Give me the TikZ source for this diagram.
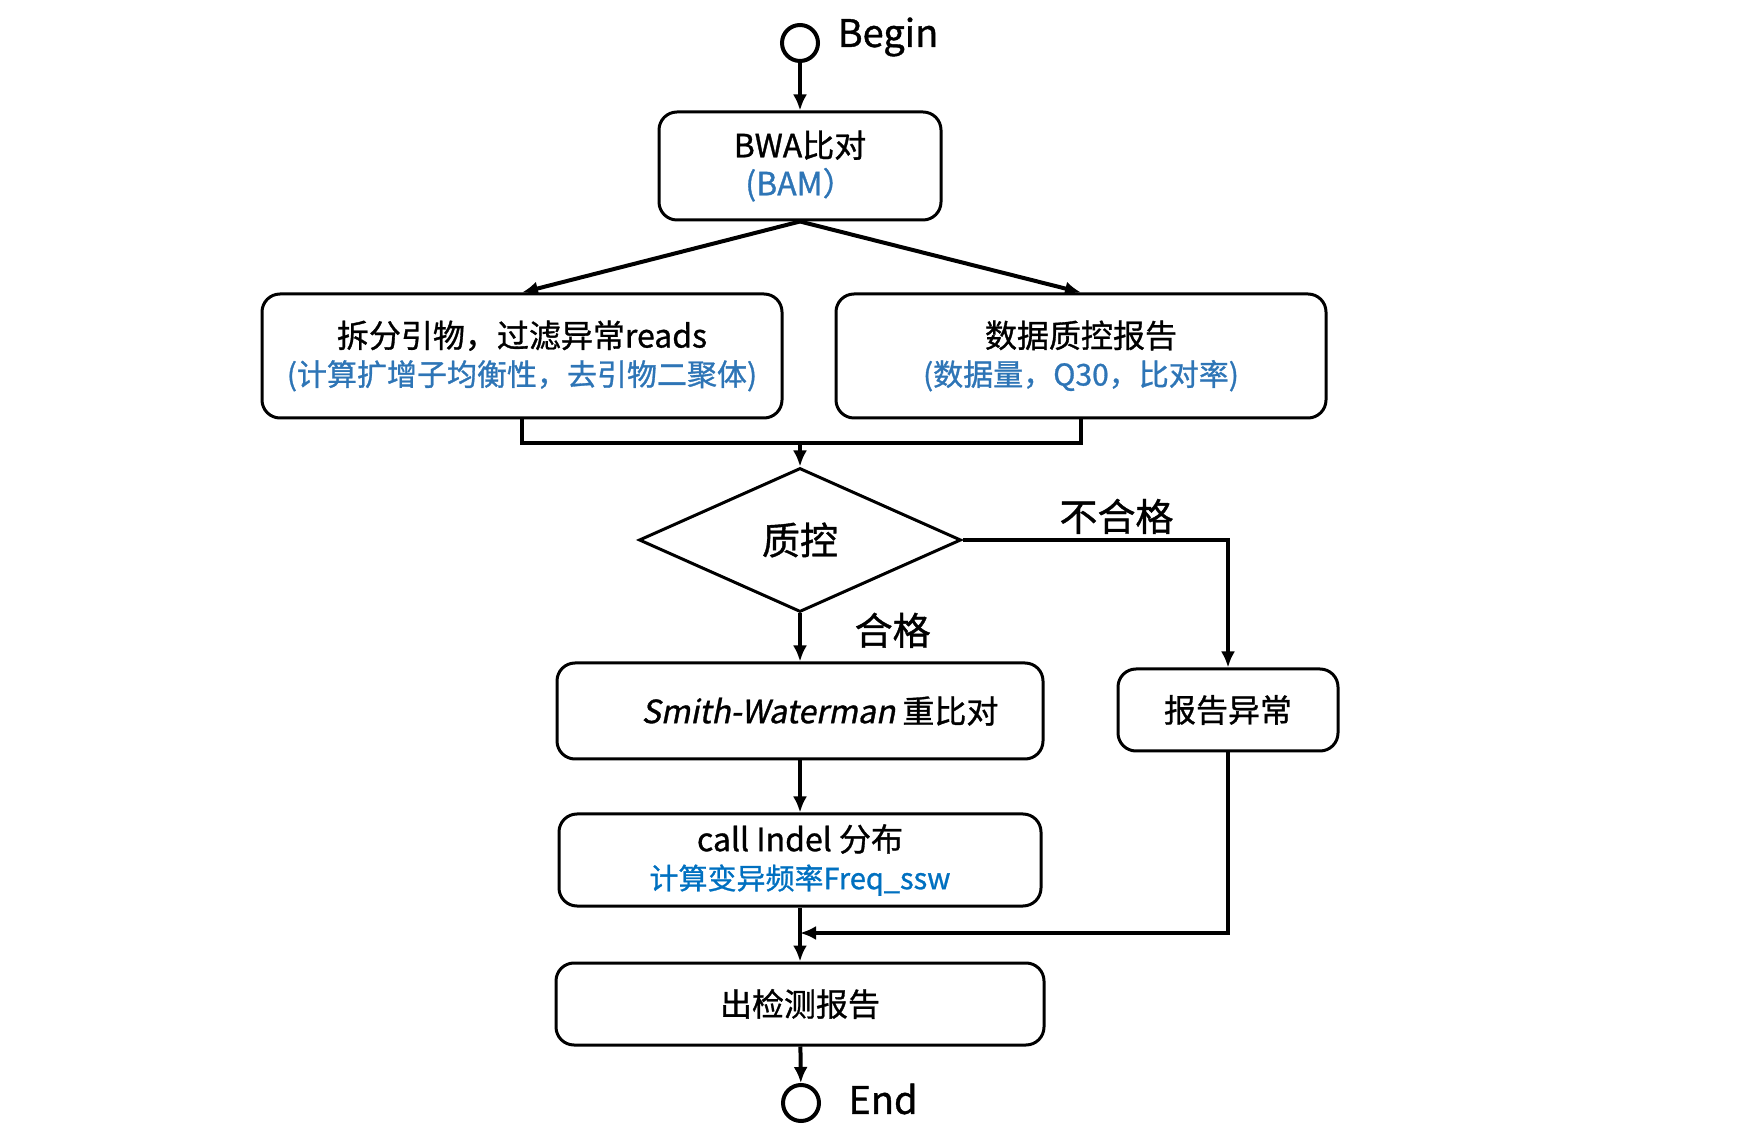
\documentclass[tikz,border=0pt]{standalone}
\usepackage{fontspec}
\setmainfont{Noto Sans CJK SC}[FakeBold=1]
\newfontfamily\slfont[FakeSlant=0.2,FakeBold=1]{Noto Sans CJK SC}
\usepackage{tikz}
\usetikzlibrary{arrows.meta,shapes,positioning}
\definecolor{bamblue}{RGB}{46,117,182}
\definecolor{freqblue}{RGB}{0,112,192}
\newcommand{\bluenote}[2][15pt]{{\fontsize{#1}{19pt}\selectfont\textcolor{bamblue}{#2}}}

\begin{document}
\begin{tikzpicture}[x=0.5pt,y=-0.5pt,>={Latex[length=8pt,width=7pt]},
  box/.style={draw,rounded corners=9pt,line width=1.5pt,align=center,font=\fontsize{16pt}{19pt}\selectfont},
  decide/.style={draw,diamond,line width=1.5pt,inner sep=0pt,font=\fontsize{19pt}{22pt}\selectfont},
  term/.style={draw,circle,line width=2pt,minimum size=18pt,inner sep=0pt},
  lbl/.style={font=\fontsize{19pt}{22pt}\selectfont},
  conn/.style={line width=2pt}]

\useasboundingbox (0,0) rectangle (1751,1143);

\node (begin) at (800,43)[term] {};
\node (beginlbl) at (888,37)[lbl] {Begin};
\node (bwa) at (800,166)[box,minimum width=141pt,minimum height=54pt] {BWA比对\\\bluenote[16pt]{(BAM）}};
\node (split) at (522,356)[box,minimum width=260pt,minimum height=62pt] {拆分引物，过滤异常reads\\\bluenote{(计算扩增子均衡性，去引物二聚体)}};
\node (qcrep) at (1081,356)[box,minimum width=245pt,minimum height=62pt] {数据质控报告\\\bluenote{(数据量，Q30，比对率)}};
\node (qc) at (800,540)[decide,minimum width=161pt,minimum height=72pt] {质控};
\node (sw) at (800,711)[box,minimum width=243pt,minimum height=48pt] {\hspace*{20pt}{\slfont Smith-Waterman} 重比对};
\node (abn) at (1228,710)[box,minimum width=110pt,minimum height=41pt] {报告异常};
\node (call) at (800,860)[box,minimum width=241pt,minimum height=46pt] {call Indel 分布\\{\fontsize{14.5pt}{19pt}\selectfont\textcolor{freqblue}{计算变异频率Freq\_ssw}}};
\node (out) at (800,1004)[box,minimum width=244pt,minimum height=41pt] {出检测报告};
\node (end) at (801,1103)[term] {};
\node (endlbl) at (883,1099)[lbl] {End};
\coordinate (merge) at (800,443);
\coordinate (join) at (800,933);

\draw [->,conn] (begin) -- (bwa);
\draw [->,conn] (bwa.south) -- (split.north);
\draw [->,conn] (bwa.south) -- (qcrep.north);
\draw [conn] (split.south) |- (merge) -| (qcrep.south);
\draw [->,conn] (merge) -- (qc.north);
\draw [->,conn] (qc.east) -| node[pos=0.29,above,lbl,inner sep=2pt] {不合格} (abn.north);
\draw [->,conn] (qc.south) -- node[pos=0.35,right,lbl,xshift=23pt] {合格} (sw.north);
\draw [->,conn] (sw) -- (call);
\draw [->,conn] (call) -- (out);
\draw [->,conn] (abn.south) |- (join);
\draw [->,conn] (out) -- (end);
\end{tikzpicture}
\end{document}
